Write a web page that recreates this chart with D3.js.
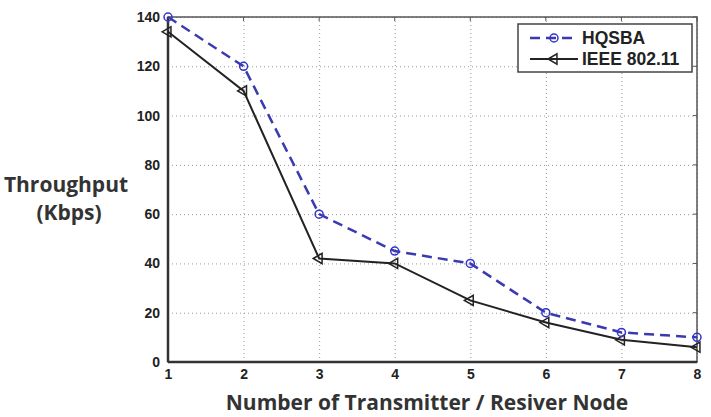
<!DOCTYPE html>
<html>
<head>
<meta charset="utf-8">
<script src="https://cdn.jsdelivr.net/npm/d3@7"></script>
<style>
  body { margin: 0; background: #fff; }
</style>
</head>
<body>
<div id="chart"></div>
<script>
// data
let nodes = [1, 2, 3, 4, 5, 6, 7, 8]
let hqsba = [140, 120, 60, 45, 40, 20, 12, 10]
let ieee = [134, 110, 42, 40, 25, 16, 9, 6]
let yTicks = [0, 20, 40, 60, 80, 100, 120, 140]
let seriesNames = ['HQSBA', 'IEEE 802.11']

let margin = { top: 17, left: 168, right: 14, bottom: 55 }
let width = 711 - margin.left - margin.right
let height = 417 - margin.top - margin.bottom

let svg = d3.select('#chart')
  .append('svg')
  .attr('width', 711)
  .attr('height', 417)

let g = svg.append('g')
  .attr('transform', `translate(${margin.left},${margin.top})`)

let xPositionScale = d3.scaleLinear().domain([1, 8]).range([0, width])
let yPositionScale = d3.scaleLinear().domain([0, 140]).range([height, 0])

// grid
let xGrid = d3.axisBottom(xPositionScale).tickValues(nodes).tickSize(-height).tickFormat('')
g.append('g')
  .attr('class', 'grid')
  .attr('transform', `translate(0,${height})`)
  .call(xGrid)
let yGrid = d3.axisLeft(yPositionScale).tickValues(yTicks).tickSize(-width).tickFormat('')
g.append('g')
  .attr('class', 'grid')
  .call(yGrid)
g.selectAll('.grid .domain').remove()
g.selectAll('.grid line')
  .attr('stroke', '#999')
  .attr('stroke-width', 1)
  .attr('stroke-dasharray', '1 3')

// axes
let xAxis = d3.axisBottom(xPositionScale)
  .tickValues(nodes)
  .tickFormat(d3.format('d'))
  .tickSize(0)
  .tickPadding(7)
g.append('g')
  .attr('class', 'axis x-axis')
  .attr('transform', `translate(0,${height})`)
  .call(xAxis)

let yAxis = d3.axisLeft(yPositionScale).tickValues(yTicks).tickSize(0).tickPadding(8)
g.append('g')
  .attr('class', 'axis y-axis')
  .call(yAxis)

g.selectAll('.axis .domain').remove()
g.selectAll('.axis text')
  .attr('font-family', 'Liberation Sans, Arial, sans-serif')
  .attr('font-size', 14)
  .attr('font-weight', 'bold')
  .attr('fill', '#222')

// small inner ticks on top and right
g.selectAll('.tick-top')
  .data(nodes)
  .enter()
  .append('line')
  .attr('x1', d => xPositionScale(d))
  .attr('x2', d => xPositionScale(d))
  .attr('y1', 0)
  .attr('y2', 4)
  .attr('stroke', '#555')
g.selectAll('.tick-right')
  .data(yTicks)
  .enter()
  .append('line')
  .attr('x1', width)
  .attr('x2', width - 4)
  .attr('y1', d => yPositionScale(d))
  .attr('y2', d => yPositionScale(d))
  .attr('stroke', '#555')

// frame
g.append('rect')
  .attr('width', width)
  .attr('height', height)
  .attr('fill', 'none')
  .attr('stroke', '#555')
  .attr('stroke-width', 1.5)
g.append('line')
  .attr('x1', 0).attr('x2', width)
  .attr('y1', height).attr('y2', height)
  .attr('stroke', '#333')
  .attr('stroke-width', 2.5)
g.append('line')
  .attr('x1', 0).attr('x2', 0)
  .attr('y1', 0).attr('y2', height)
  .attr('stroke', '#333')
  .attr('stroke-width', 2.5)

let line = d3.line()
  .x((d, i) => xPositionScale(nodes[i]))
  .y(d => yPositionScale(d))

// IEEE line
g.append('path')
  .datum(ieee)
  .attr('d', line)
  .attr('fill', 'none')
  .attr('stroke', '#222')
  .attr('stroke-width', 2)

// triangles pointing left
let tri = d3.symbol().type(d3.symbolTriangle).size(45)
g.selectAll('.tri')
  .data(ieee)
  .enter()
  .append('path')
  .attr('class', 'tri')
  .attr('d', tri)
  .attr('transform', (d, i) => `translate(${xPositionScale(nodes[i])},${yPositionScale(d)}) rotate(-90)`)
  .attr('fill', 'none')
  .attr('stroke', '#222')
  .attr('stroke-width', 1.5)

// HQSBA line
g.append('path')
  .datum(hqsba)
  .attr('d', line)
  .attr('fill', 'none')
  .attr('stroke', '#3b3bb0')
  .attr('stroke-width', 2.5)
  .attr('stroke-dasharray', '10 6')

g.selectAll('.circ')
  .data(hqsba)
  .enter()
  .append('circle')
  .attr('class', 'circ')
  .attr('cx', (d, i) => xPositionScale(nodes[i]))
  .attr('cy', d => yPositionScale(d))
  .attr('r', 4)
  .attr('fill', 'none')
  .attr('stroke', '#3434d0')
  .attr('stroke-width', 1.5)

// legend
let legend = svg.append('g').attr('transform', 'translate(518,24)')
legend.append('rect')
  .attr('width', 174)
  .attr('height', 48)
  .attr('fill', '#fff')
  .attr('stroke', '#444')
  .attr('stroke-width', 1.5)

legend.append('line')
  .attr('x1', 12).attr('x2', 60)
  .attr('y1', 14).attr('y2', 14)
  .attr('stroke', '#3b3bb0')
  .attr('stroke-width', 2.5)
  .attr('stroke-dasharray', '10 6')
legend.append('circle')
  .attr('cx', 36).attr('cy', 14).attr('r', 4)
  .attr('fill', 'none')
  .attr('stroke', '#3434d0')
  .attr('stroke-width', 1.5)
legend.append('line')
  .attr('x1', 12).attr('x2', 60)
  .attr('y1', 35).attr('y2', 35)
  .attr('stroke', '#222')
  .attr('stroke-width', 2)
legend.append('path')
  .attr('d', tri)
  .attr('transform', 'translate(36,35) rotate(-90)')
  .attr('fill', 'none')
  .attr('stroke', '#222')
  .attr('stroke-width', 1.5)

legend.selectAll('.leg-text')
  .data(seriesNames)
  .enter()
  .append('text')
  .attr('x', 64)
  .attr('y', (d, i) => 14 + i * 21)
  .attr('dy', '0.35em')
  .attr('font-family', 'Liberation Sans, Arial, sans-serif')
  .attr('font-size', 17.5)
  .attr('font-weight', 'bold')
  .attr('fill', '#222')
  .text(d => d)

// axis titles
svg.append('text')
  .attr('x', 66)
  .attr('y', 192)
  .attr('text-anchor', 'middle')
  .attr('font-family', 'Open Sans, sans-serif')
  .attr('font-size', 21)
  .attr('font-weight', 'bold')
  .attr('fill', '#333')
  .text('Throughput')
svg.append('text')
  .attr('x', 69)
  .attr('y', 220)
  .attr('text-anchor', 'middle')
  .attr('font-family', 'Open Sans, sans-serif')
  .attr('font-size', 21)
  .attr('font-weight', 'bold')
  .attr('fill', '#333')
  .text('(Kbps)')
svg.append('text')
  .attr('x', 427)
  .attr('y', 410)
  .attr('text-anchor', 'middle')
  .attr('font-family', 'Open Sans, sans-serif')
  .attr('font-size', 21)
  .attr('font-weight', 'bold')
  .attr('fill', '#333')
  .text('Number of Transmitter / Resiver Node')
</script>
</body>
</html>
